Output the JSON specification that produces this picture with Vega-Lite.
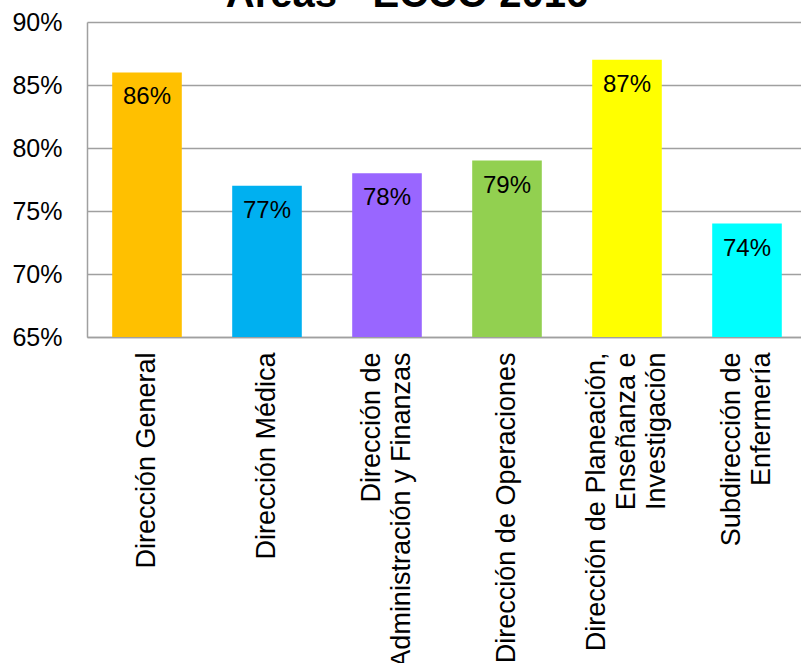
{
  "$schema": "https://vega.github.io/schema/vega-lite/v6.json",
  "autosize": "none",
  "width": 714,
  "height": 315,
  "padding": {"left": 87, "top": 22, "right": 0, "bottom": 326},
  "background": "white",
  "title": {
    "text": "Áreas - ECCO 2016",
    "font": "Liberation Sans",
    "fontSize": 40,
    "fontWeight": "bold",
    "color": "black",
    "anchor": "middle",
    "frame": "group",
    "baseline": "alphabetic",
    "offset": 0,
    "dx": -37,
    "dy": 37
  },
  "config": {
    "view": {"stroke": null},
    "font": "Liberation Sans"
  },
  "data": {
    "values": [
      {"area": "Dirección General", "valor": 0.86, "color": "#FFC000"},
      {"area": "Dirección Médica", "valor": 0.77, "color": "#00B0F0"},
      {"area": "Dirección de|Administración y Finanzas", "valor": 0.78, "color": "#9966FF"},
      {"area": "Dirección de Operaciones", "valor": 0.79, "color": "#92D050"},
      {"area": "Dirección de Planeación,|Enseñanza e|Investigación", "valor": 0.87, "color": "#FFFF00"},
      {"area": "Subdirección de|Enfermería", "valor": 0.74, "color": "#00FFFF"}
    ]
  },
  "encoding": {
    "x": {
      "field": "area",
      "type": "nominal",
      "sort": null,
      "scale": {"paddingInner": 0.42, "paddingOuter": 0.21, "range": [0, 720]},
      "axis": {
        "title": null,
        "labelAngle": -90,
        "labelAlign": "right",
        "labelBaseline": "middle",
        "labelFontSize": 27,
        "labelColor": "black",
        "labelLineHeight": 30,
        "labelPadding": 15,
        "labelExpr": "split(datum.label, '|')",
        "labelOffset": {
          "condition": [
            {"test": "length(split(datum.value, '|')) == 3", "value": -30},
            {"test": "length(split(datum.value, '|')) == 2", "value": -15}
          ],
          "value": 0
        },
        "ticks": false,
        "domainColor": "#a0a0a0",
        "domainWidth": 1.5,
        "labelLimit": 0
      }
    },
    "y": {
      "field": "valor",
      "type": "quantitative",
      "scale": {"domain": [0.65, 0.9], "nice": false, "zero": false},
      "axis": {
        "title": null,
        "format": ".0%",
        "values": [0.65, 0.7, 0.75, 0.8, 0.85, 0.9],
        "labelFontSize": 25,
        "labelColor": "black",
        "labelPadding": 25,
        "ticks": false,
        "domainColor": "#a0a0a0",
        "domainWidth": 1.5,
        "gridColor": "#a0a0a0",
        "gridWidth": 1.5
      }
    }
  },
  "layer": [
    {
      "mark": {"type": "bar"},
      "encoding": {
        "y2": {"datum": 0.65},
        "color": {"field": "color", "type": "nominal", "scale": null}
      }
    },
    {
      "mark": {"type": "text", "baseline": "top", "dy": 13, "fontSize": 24, "color": "black"},
      "encoding": {
        "text": {"field": "valor", "type": "quantitative", "format": ".0%"}
      }
    }
  ]
}
